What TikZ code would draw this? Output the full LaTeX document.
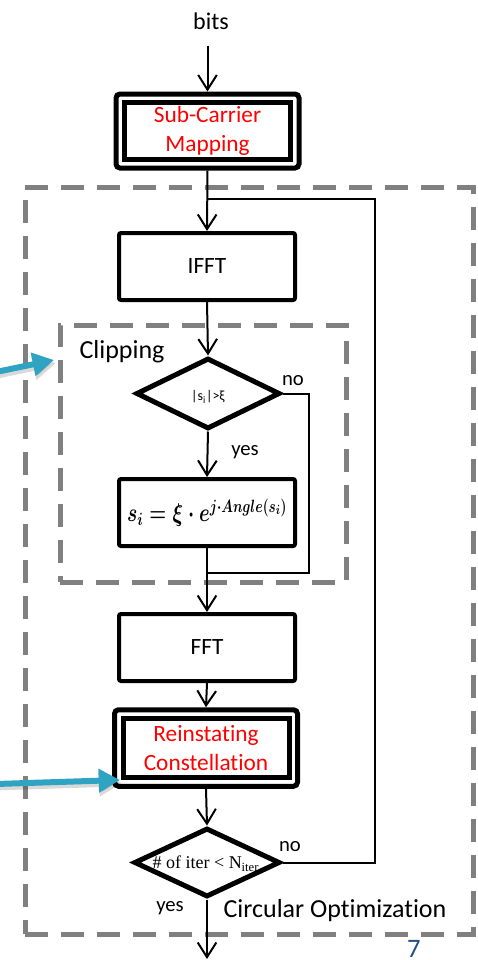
\documentclass[tikz,border=0pt]{standalone}
\usepackage{fontspec}
\usepackage{graphicx}
\setmainfont{Carlito}[Ligatures=NoCommon]
\newfontfamily\tnr{Liberation Serif}
\usetikzlibrary{arrows.meta,shapes.geometric,fit,calc}
\definecolor{dashgray}{RGB}{128,128,128}
\definecolor{arrowblue}{RGB}{46,163,194}
\definecolor{slidenum}{RGB}{38,80,130}
\begin{document}
\begin{tikzpicture}[x=0.75pt,y=-0.75pt,
  box/.style={draw, line width=3pt, rounded corners=1.5pt, minimum width={176*0.75pt},
    minimum height={67*0.75pt}, inner sep=0pt, font=\fontsize{17.5}{20}\selectfont},
  inbox/.style={draw, line width=3.75pt, minimum width={166*0.75pt}, inner sep=0pt,
    text=red, align=center, font=\fontsize{17.5}{22}\selectfont},
  outbox/.style={draw, line width=3.75pt, rounded corners=3pt, inner sep=4.5pt},
  dec/.style={diamond, draw, line width=3.75pt, inner sep=0pt},
  dectext/.style={inner sep=0pt},
  conn/.style={line width=1.5pt},
  arr/.style={conn, -{Straight Barb[length=11pt,width=14pt]}},
  dashbox/.style={draw=dashgray, line width=3.75pt, dash pattern=on 17pt off 10pt},
  lbl/.style={inner sep=0pt, font=\fontsize{15.5}{18}\selectfont},
  bigl/.style={inner sep=0pt, font=\fontsize{19.5}{22}\selectfont},
  bluearr/.style={draw=arrowblue, line width=4.5pt, -{Triangle[length=16pt,width=17pt]}},
  shadowarr/.style={draw=black, opacity=0.15, line width=5pt, -{Triangle[length=17pt,width=18pt]}}
]
\useasboundingbox (0,0) rectangle (478,960);

% dashed frames
\node[dashbox, minimum width={448*0.75pt}, minimum height={747*0.75pt}, inner sep=0pt] (outer) at (249,560.5) {};
\node[dashbox, minimum width={286*0.75pt}, minimum height={257*0.75pt}, inner sep=0pt] (inner) at (203,453.5) {};

% nodes
\node[inner sep=2pt, font=\fontsize{18}{20}\selectfont] (bits) at (211,21) {bits};
\node[inbox, minimum height={57*0.75pt}] (sc) at (207.5,131) {Sub-Carrier\\Mapping};
\node[outbox, fit=(sc)] (scO) {};
\node[box] (ifft) at (207,266.5) {IFFT};
\node[dec, minimum width={144*0.75pt}, minimum height={71*0.75pt}] (d1) at (208,393.5) {};
\node[dectext, font=\fontsize{10.5}{12}\selectfont] (d1t) at (208,397) {|s\textsubscript{i}|>ξ};
\node[box] (clip) at (207,512.5)
  {\raisebox{-4pt}{\resizebox{120pt}{17pt}{\boldmath$s_i=\xi\cdot e^{j\cdot Angle(s_i)}$}}};
\node[box] (fft) at (207,647.5) {FFT};
\node[inbox, minimum height={59.5*0.75pt}] (rc) at (206,748) {Reinstating\\Constellation};
\node[outbox, fit=(rc)] (rcO) {};
\node[dec, minimum width={146*0.75pt}, minimum height={69*0.75pt}] (d2) at (207,862.5) {};
\node[dectext] (d2t) at (206,864)
  {\resizebox{80pt}{!}{\tnr\fontsize{11}{12}\selectfont \# of iter < N\textsubscript{iter}}};

% labels
\node[bigl] (cliplbl) at (122,352) {Clipping};
\node[lbl] (yes1) at (245,452) {yes};
\node[lbl] (no1) at (293,381) {no};
\node[lbl] (no2) at (290,847) {no};
\node[lbl] (yes2) at (170,908) {yes};
\node[bigl] (circ) at (335,911) {Circular Optimization};
\node[inner sep=0pt, text=slidenum, font=\fontsize{20}{22}\selectfont] (pg) at (414,949) {7};

% helper coordinates
\coordinate (loopj) at (207,199);
\coordinate (mergej) at (207,573);
\coordinate (out) at (207,959);
\coordinate (b1s) at (-4,372);
\coordinate (b1e) at (54,360);
\coordinate (b2s) at (-4,784);
\coordinate (b2e) at (120,780);

% connectors
\draw[arr, shorten <=10pt] (bits.south -| scO.north) -- (scO.north);
\draw[arr] (scO.south) -- (ifft.north);
\draw[conn] (d2.east) -- ++(92,0) |- (loopj);
\draw[arr] (ifft.south) -- (d1.north);
\draw[arr] (d1.south) -- (clip.north);
\draw[conn] (d1.east) -- ++(26,0) |- (mergej);
\draw[arr] (clip.south) -- (fft.north);
\draw[arr] (fft.south) -- (rcO.north);
\draw[arr] (rcO.south) -- (d2.north);
\draw[arr] (d2.south) -- (out);

% blue pointer arrows
\draw[shadowarr] ($(b1s)+(2,3)$) -- ($(b1e)+(2,3)$);
\draw[bluearr] (b1s) -- (b1e);
\draw[shadowarr] ($(b2s)+(2,3)$) -- ($(b2e)+(2,3)$);
\draw[bluearr] (b2s) -- (b2e);
\end{tikzpicture}
\end{document}
